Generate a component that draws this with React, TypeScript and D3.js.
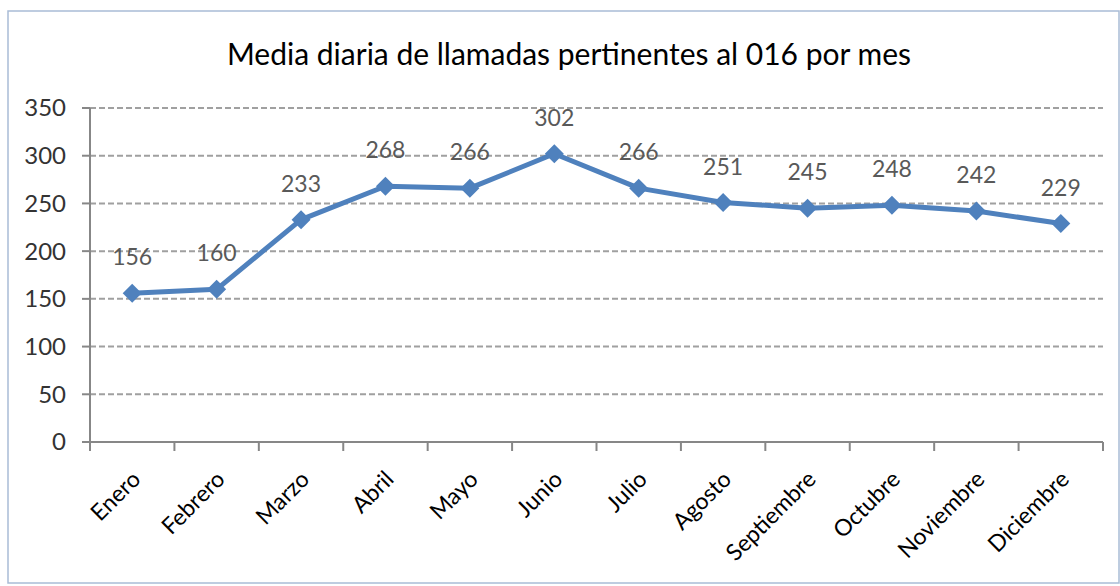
import React from 'react';
import * as d3 from 'd3';

const months = ['Enero', 'Febrero', 'Marzo', 'Abril', 'Mayo', 'Junio', 'Julio', 'Agosto', 'Septiembre', 'Octubre', 'Noviembre', 'Diciembre'];
const llamadas = [156, 160, 233, 268, 266, 302, 266, 251, 245, 248, 242, 229];
const yTicks = [0, 50, 100, 150, 200, 250, 300, 350];
const title = 'Media diaria de llamadas pertinentes al 016 por mes';

const width = 1120, height = 586;
const margin = { top: 108, right: 17, bottom: 144, left: 90 };
const font = 'Lato, "Open Sans", sans-serif';

export default function App() {
    const x = d3.scaleBand().domain(months).range([margin.left, width - margin.right]);
    const y = d3.scaleLinear().domain([0, 350]).range([height - margin.bottom, margin.top]);

    const line = d3.line<number>()
        .x((d, i) => x(months[i])! + x.bandwidth() / 2)
        .y(d => y(d));

    // square diamond like the spreadsheet marker
    const r = 9.5;
    const diamond = `M0,${-r}L${r},0L0,${r}L${-r},0Z`;
    const y0 = y(0);

    return (
        <svg width={width} height={height} style={{ position: 'absolute', left: 0, top: 0 }}>
            <rect x={8} y={11} width={1111} height={572} fill="#fff" stroke="#a9bcd6" strokeWidth={1.5} />
            <text x={569} y={65} textAnchor="middle" fontFamily={font} fontSize={30} fill="#000">{title}</text>
            {yTicks.map(t => (
                <g key={t}>
                    {t > 0 && <line x1={margin.left} x2={width - margin.right} y1={y(t)} y2={y(t)}
                        stroke="#a0a0a0" strokeWidth={2} strokeDasharray="6,3" />}
                    <line x1={82} x2={margin.left} y1={y(t)} y2={y(t)} stroke="#878787" strokeWidth={2} />
                    <text x={66} y={y(t)} dy="0.35em" textAnchor="end" fontFamily={font} fontSize={24} fill="#333">{t}</text>
                </g>
            ))}
            <line x1={margin.left} x2={margin.left} y1={y(350)} y2={y0} stroke="#878787" strokeWidth={2} />
            <line x1={margin.left} x2={width - margin.right} y1={y0} y2={y0} stroke="#878787" strokeWidth={2} />
            {months.map((m, i) => (
                <g key={m}>
                    <line x1={x(m)!} x2={x(m)!} y1={y0} y2={y0 + 9} stroke="#878787" strokeWidth={2} />
                    {i === months.length - 1 && <line x1={width - margin.right} x2={width - margin.right} y1={y0} y2={y0 + 9} stroke="#878787" strokeWidth={2} />}
                    <text transform={`translate(${x(m)! + x.bandwidth() / 2 + 4},${y0 + 33}) rotate(-45)`}
                        textAnchor="end" dy="0.35em" fontFamily={font} fontSize={23} fill="#000">{m}</text>
                </g>
            ))}
            <path d={line(llamadas) || ''} fill="none" stroke="#4f81bd" strokeWidth={5} strokeLinejoin="round" />
            {llamadas.map((v, i) => {
                const cx = x(months[i])! + x.bandwidth() / 2;
                return (
                    <g key={i}>
                        <path d={diamond} transform={`translate(${cx},${y(v)})`} fill="#4f81bd" />
                        <text x={cx} y={y(v) - 36} dy="0.35em" textAnchor="middle" fontFamily={font} fontSize={23} fill="#595959">{v}</text>
                    </g>
                );
            })}
        </svg>
    );
}
